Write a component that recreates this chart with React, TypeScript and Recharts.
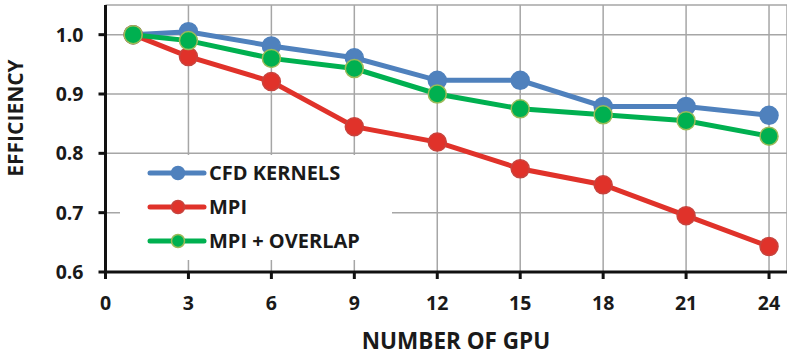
import { LineChart, Line, XAxis, YAxis, CartesianGrid, Legend, Label } from "recharts"

const FONT = '"Open Sans", "Liberation Sans", sans-serif'
const INK = "#1a1a1a"

// GPU counts on the x axis, efficiency per configuration
const gpuCounts = [1, 3, 6, 9, 12, 15, 18, 21, 24]
const cfdKernels = [1.0, 1.005, 0.981, 0.961, 0.923, 0.923, 0.879, 0.879, 0.864]
const mpi = [1.0, 0.963, 0.921, 0.845, 0.819, 0.774, 0.747, 0.695, 0.643]
const mpiOverlap = [1.0, 0.99, 0.96, 0.943, 0.9, 0.875, 0.865, 0.855, 0.829]

const xTicks = [0, 3, 6, 9, 12, 15, 18, 21, 24]
const yTicks = [0.6, 0.7, 0.8, 0.9, 1.0]

const series = [
  { key: "cfd", name: "CFD KERNELS", color: "#4F81BD", dotStroke: "#4F81BD" },
  { key: "mpi", name: "MPI", color: "#E0322A", dotStroke: "#C8433D" },
  { key: "overlap", name: "MPI + OVERLAP", color: "#00B050", dotStroke: "#9BBB59" },
]

const rows = gpuCounts.map((gpus, i) => ({
  gpus,
  cfd: cfdKernels[i],
  mpi: mpi[i],
  overlap: mpiOverlap[i],
}))

const tickStyle = { fill: INK, fontSize: 19.5, fontWeight: 700, fontFamily: FONT }
const axisStroke = { stroke: "#111", strokeWidth: 3 }

function LegendBox() {
  return (
    <div style={{ background: "#fff", width: 272, height: 105, paddingTop: 1, boxSizing: "border-box" }}>
      {series.map((s) => (
        <div key={s.key} style={{ display: "flex", alignItems: "center", height: 34 }}>
          <svg width={89} height={20} style={{ display: "block" }}>
            <line x1={30} x2={84} y1={10} y2={10} stroke={s.color} strokeWidth={5} strokeLinecap="round" />
            <circle cx={58} cy={10} r={6.5} fill={s.color} stroke={s.dotStroke} strokeWidth={1.5} />
          </svg>
          <span style={{ fontFamily: FONT, fontWeight: 700, fontSize: 20, color: INK, lineHeight: "34px", whiteSpace: "nowrap" }}>
            {s.name}
          </span>
        </div>
      ))}
    </div>
  )
}

export default function App() {
  return (
    <div style={{ position: "absolute", left: 0, top: 0, width: 787, height: 356, background: "#fff" }}>
      <LineChart width={787} height={356} data={rows} margin={{ top: 5, right: 0, bottom: 34, left: 45.5 }}>
        <CartesianGrid stroke="#A6A6A6" strokeWidth={1.5} />
        <XAxis
          type="number"
          dataKey="gpus"
          domain={[0, 24.65]}
          ticks={xTicks}
          interval={0}
          height={50}
          axisLine={axisStroke}
          tickLine={axisStroke}
          tickSize={7}
          tickMargin={17}
          tick={tickStyle}
        >
          <Label
            content={() => (
              <text x={456} y={340} textAnchor="middle" dominantBaseline="central" fill={INK} fontFamily={FONT} fontWeight={700} fontSize={22.5}>
                NUMBER OF GPU
              </text>
            )}
          />
        </XAxis>
        <YAxis
          type="number"
          domain={[0.6, 1.05]}
          ticks={yTicks}
          interval={0}
          width={60}
          axisLine={axisStroke}
          tickLine={axisStroke}
          tickSize={7}
          tickMargin={15}
          tick={tickStyle}
          tickFormatter={(v: number) => v.toFixed(1)}
        >
          <Label
            content={() => (
              <text x={15} y={118} transform="rotate(-90 15 118)" textAnchor="middle" dominantBaseline="central" fill={INK} fontFamily={FONT} fontWeight={700} fontSize={21}>
                EFFICIENCY
              </text>
            )}
          />
        </YAxis>
        <Legend
          layout="vertical"
          align="center"
          verticalAlign="middle"
          wrapperStyle={{ left: 120, top: 155, width: 272, height: 105 }}
          content={() => <LegendBox />}
        />
        {series.map((s) => (
          <Line
            key={s.key}
            type="linear"
            dataKey={s.key}
            name={s.name}
            stroke={s.color}
            strokeWidth={5}
            dot={{ r: 9, fill: s.color, stroke: s.dotStroke, strokeWidth: 1.5 }}
            activeDot={false}
            isAnimationActive={false}
          />
        ))}
      </LineChart>
    </div>
  )
}
